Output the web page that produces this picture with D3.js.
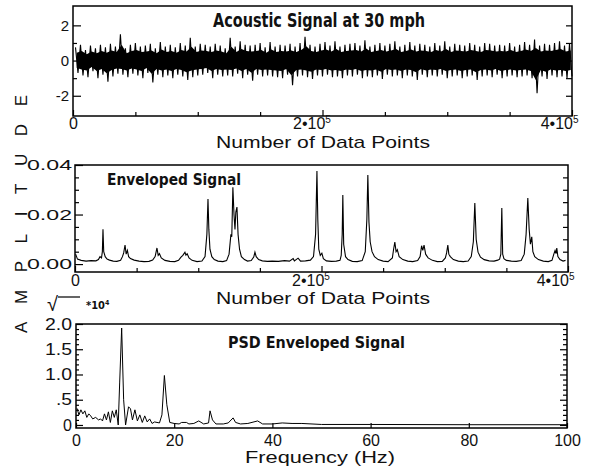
<!DOCTYPE html>
<html>
<head>
<meta charset="utf-8">
<script src="https://cdn.jsdelivr.net/npm/d3@7"></script>
<style>
body { margin: 0; background: #fff; }
</style>
</head>
<body>
<script>
// ---- data ----

// acoustic signal, decimated trace (one value every 2000 data points), amplitude
var acoustic = [
  0.75,-0.7,0.9,-0.85,0.6,-0.95,0.85,-0.6,0.7,-1.0,
  0.9,-0.8,0.75,-1.2,0.95,-0.9,0.8,-0.75,1.5,-0.8,
  0.7,-0.95,0.9,-0.75,1.0,-0.85,0.8,-1.0,0.85,-0.7,
  0.95,-1.25,0.7,-0.8,1.05,-0.95,0.8,-0.85,0.9,-1.0,
  0.75,-0.8,1.0,-0.9,0.85,-1.1,1.3,-0.95,0.8,-0.85,
  0.95,-0.8,0.9,-0.7,0.8,-1.0,0.95,-0.8,0.85,-0.9,
  0.7,-0.85,1.3,-0.9,0.8,-0.75,1.1,-1.0,0.9,-0.8,
  0.85,-1.15,0.9,-0.8,1.0,-0.9,0.75,-0.85,1.05,-0.9,
  0.8,-0.95,0.9,-1.0,0.85,-0.8,0.95,-1.4,0.8,-0.9,
  1.0,-0.85,1.35,-0.95,0.9,-1.05,0.8,-0.85,0.95,-0.9,
  1.05,-0.8,0.85,-0.95,1.1,-0.9,0.8,-1.0,0.9,-0.85,
  0.95,-0.9,1.0,-0.8,0.85,-1.0,1.15,-0.9,0.8,-0.95,
  0.9,-0.85,1.0,-1.05,0.85,-0.8,0.95,-0.9,1.1,-0.85,
  0.8,-1.0,0.9,-0.85,1.05,-0.9,0.85,-1.1,0.95,-0.8,
  0.9,-0.95,0.8,-0.85,1.0,-0.9,0.85,-0.8,1.1,-1.0,
  0.8,-0.9,0.95,-0.85,0.9,-1.0,0.85,-0.9,1.0,-0.85,
  0.9,-1.1,0.8,-0.9,1.0,-0.85,0.95,-0.95,0.85,-0.8,
  0.9,-1.0,0.85,-0.9,1.0,-0.85,0.8,-0.95,0.9,-0.9,
  1.05,-0.85,0.9,-1.0,1.2,-1.85,0.85,-0.9,0.95,-1.05,
  0.9,-0.85,1.0,-0.95,1.1,-0.9,0.85,-1.0,0.95,-0.9
]
var acousticStep = 2 // thousands of data points between samples

// enveloped signal: position (thousands of data points) and amplitude
var envX = [
  0.5,2,5,9,13,17,19,20.3,21.5,22.2,22.7,23.3,24.5,26,28,31,34,37,38.5,39.5,
  40.6,41.5,42.5,43.5,45,48,52,56,60,63,65,66.5,67.5,68.5,70,73,77,81,84,86,
  87.5,89.2,90,91,92.5,95,99,103,105.5,107,107.9,108.6,109.5,111,113,116,120,123,125,126.5,
  127.2,128.1,129,129.8,130.5,131.4,132.3,133.5,135,137.5,140,143,145,146,147,149,152,156,160,165,
  170,174,177,178,181,183,187,191,193.5,195.2,196.3,197,197.8,199,200.3,201.5,204,208,212,215,
  216,216.8,217.3,218,219.5,221.5,225,229,233,235.5,236.8,237.6,238.5,239.5,241,243,246,250,254,257.5,
  258.5,259.5,260.5,261.5,263,266,270,274,278,280,281.2,282.2,283.2,284.5,286.5,290,294,298,300.5,301.5,
  302.5,303.3,304.5,307,311,315,319,321.5,323.2,324.4,325.5,327,329,332,336,340,343,344.5,345.5,346.3,
  347,348,350,354,358,362,364.5,366,367.4,368.5,369.5,370.6,371.5,373,376,380,384,387,388.5,389.5,
  390.3,390.9,391.8,393.5,396,398
]
var envY = [
  0.004,0.002,0.0015,0.0012,0.0014,0.0013,0.0018,0.003,0.0025,0.005,0.0141,0.005,0.003,0.002,0.0016,0.0012,0.0011,0.0015,0.003,0.0045,
  0.0077,0.004,0.0055,0.003,0.0022,0.0016,0.0012,0.001,0.0011,0.0016,0.003,0.0065,0.0035,0.0042,0.0025,0.0015,0.0011,0.001,0.0015,0.0028,
  0.0035,0.0048,0.0036,0.0042,0.0025,0.0015,0.001,0.0012,0.003,0.012,0.0263,0.014,0.006,0.003,0.0018,0.0012,0.001,0.0014,0.004,0.012,
  0.011,0.031,0.02,0.014,0.021,0.023,0.012,0.006,0.003,0.0018,0.0012,0.0014,0.0028,0.0048,0.003,0.0018,0.0013,0.0011,0.0012,0.0011,
  0.0014,0.0012,0.0022,0.0013,0.0024,0.0012,0.0013,0.0016,0.003,0.012,0.0376,0.018,0.006,0.0035,0.0044,0.0022,0.0013,0.0011,0.0012,0.0015,
  0.0035,0.012,0.0279,0.008,0.003,0.0018,0.0011,0.001,0.0014,0.005,0.018,0.036,0.017,0.009,0.005,0.003,0.0018,0.0012,0.001,0.0025,
  0.006,0.0089,0.005,0.0058,0.003,0.0018,0.0012,0.001,0.0014,0.003,0.0074,0.0055,0.0077,0.004,0.0025,0.0015,0.001,0.0011,0.0025,0.0045,
  0.0077,0.004,0.003,0.0018,0.0012,0.001,0.0012,0.003,0.009,0.0246,0.01,0.0048,0.0028,0.0018,0.0013,0.0012,0.0016,0.002,0.004,0.0226,
  0.004,0.0022,0.0015,0.0012,0.0011,0.0014,0.004,0.012,0.0267,0.014,0.008,0.011,0.005,0.003,0.0018,0.0012,0.001,0.0015,0.004,0.0055,
  0.0042,0.0065,0.003,0.0018,0.0012,0.0015
]

// PSD of the enveloped signal: frequency (Hz) and sqrt(PSD) in units of 10^4
var psdHz = [
  0.2,0.6,1.0,1.4,1.8,2.2,2.6,3.0,3.4,4.0,4.6,5.0,5.4,5.8,6.2,6.6,7.0,7.4,7.8,8.2,
  8.6,8.9,9.3,9.7,10.1,10.7,11.1,11.5,12.0,12.5,13.0,13.5,14.0,14.5,15.0,15.5,16.0,17.0,17.5,18.0,
  18.5,19.1,20,21,21.5,22.5,23,24,25,26,27,27.3,27.8,28.5,30,31,32,32.5,33.5,35,
  37,38,40,42,44,46,50,60,80,100
]
var psdVal = [
  0.33,0.2,0.3,0.22,0.28,0.15,0.22,0.18,0.12,0.15,0.1,0.12,0.08,0.22,0.1,0.26,0.05,0.28,0.15,0.3,
  0.0,0.85,1.92,0.5,0.0,0.36,0.32,0.1,0.3,0.08,0.2,0.05,0.18,0.06,0.12,0.03,0.06,0.04,0.2,0.98,
  0.4,0.05,0.03,0.02,0.05,0.05,0.02,0.03,0.08,0.02,0.04,0.28,0.1,0.02,0.02,0.04,0.14,0.05,0.02,0.03,
  0.08,0.02,0.02,0.04,0.03,0.03,0.01,0.01,0.005,0.005
]

var acousticTicks = [-2, 0, 2]
var envTicks = [0, 0.02, 0.04]
var psdTicks = [0, 0.5, 1.0, 1.5, 2.0]
var pointTicks = [0, 200, 400]
var freqTicks = [0, 20, 40, 60, 80, 100]

var tickFont = "Liberation Sans, Arial, Helvetica, sans-serif"
var titleFont = "Liberation Sans Narrow, DejaVu Sans Condensed, Liberation Sans, sans-serif"

var svg = d3.select("body")
  .append("svg")
  .attr("width", 600)
  .attr("height", 469)

// ---- helpers ----
function frame(g, x, y) {
  g.append("rect")
    .attr("x", x.range()[0])
    .attr("y", y.range()[1])
    .attr("width", x.range()[1] - x.range()[0])
    .attr("height", y.range()[0] - y.range()[1])
    .attr("fill", "none")
    .attr("stroke", "#000")
    .attr("stroke-width", 1.5)
}

function axis(g, ax, tf) {
  var a = g.append("g").attr("transform", tf).call(ax)
  a.select(".domain").remove()
  a.selectAll("line").attr("stroke", "#000").attr("stroke-width", 1.2)
  a.selectAll("text")
    .attr("font-family", tickFont)
    .attr("font-size", 15)
    .attr("fill", "#111")
  return a
}

function powerLabels(a) {
  // "2•10^5" and "4•10^5" labels with a superscript
  a.selectAll(".tick text").each(function(d) {
    var t = d3.select(this)
    if (d === 0) return
    t.text(null)
    t.append("tspan").text((d / 100) + "\u202210")
    t.append("tspan").attr("font-size", 10).attr("dy", -6).text("5")
    if (d === 400) t.attr("text-anchor", "end").attr("dx", 6)
    else t.attr("dx", -11)
  })
}

function title(txt, x, y, size, len) {
  svg.append("text")
    .attr("x", x).attr("y", y)
    .attr("font-family", titleFont)
    .attr("font-weight", "bold")
    .attr("font-size", size)
    .attr("fill", "#111")
    .attr("textLength", len)
    .attr("lengthAdjust", "spacingAndGlyphs")
    .text(txt)
}

function axisTitle(txt, cx, y, len) {
  svg.append("text")
    .attr("x", cx).attr("y", y)
    .attr("text-anchor", "middle")
    .attr("font-family", tickFont)
    .attr("font-size", 17)
    .attr("fill", "#111")
    .attr("textLength", len)
    .attr("lengthAdjust", "spacingAndGlyphs")
    .text(txt)
}

// ---- panel 1: acoustic signal ----
var x1 = d3.scaleLinear().domain([0, 400]).range([73, 572])
var y1 = d3.scaleLinear().domain([-3.15, 3.1]).range([116, 6])
var g1 = svg.append("g")
var ax = function(i) { return x1(2 + i * acousticStep) }

// dense core of the trace: between each up/down pair of samples
g1.append("path")
  .datum(d3.range(acoustic.length / 2))
  .attr("fill", "#000")
  .attr("d", d3.area()
    .x(function(k) { return ax(2 * k + 0.5) })
    .y1(function(k) { return y1(0.6 * Math.max(acoustic[2 * k], acoustic[2 * k + 1])) })
    .y0(function(k) { return y1(0.6 * Math.min(acoustic[2 * k], acoustic[2 * k + 1])) }))

g1.append("path")
  .datum(acoustic)
  .attr("fill", "none")
  .attr("stroke", "#000")
  .attr("stroke-width", 1.1)
  .attr("d", d3.line()
    .x(function(d, i) { return ax(i) })
    .y(function(d) { return y1(d) }))

frame(g1, x1, y1)
axis(g1, d3.axisLeft(y1).tickValues(acousticTicks).tickSize(-8).tickPadding(4)
  .tickFormat(function(d) { return String(d) }), "translate(73,0)")
axis(g1, d3.axisLeft(y1).tickValues([-1, 1]).tickSize(-4).tickFormat(""), "translate(73,0)")
axis(g1, d3.axisRight(y1).tickValues([-2, -1, 0, 1, 2]).tickSize(-6).tickFormat(""), "translate(572,0)")
axis(g1, d3.axisBottom(x1).tickValues([50, 100, 150, 250, 300, 350]).tickSize(-4).tickFormat(""), "translate(0,116)")
var b1 = axis(g1, d3.axisBottom(x1).tickValues(pointTicks).tickSize(-6).tickPadding(2), "translate(0,116)")
b1.selectAll("text").attr("font-size", 16)
powerLabels(b1)

title("Acoustic Signal at 30 mph", 213, 27, 19, 212)
axisTitle("Number of Data Points", 323, 148, 214)

// ---- panel 2: enveloped signal ----
var x2 = d3.scaleLinear().domain([0, 400]).range([75, 568])
var y2 = d3.scaleLinear().domain([-0.0032, 0.04]).range([272, 165])
var g2 = svg.append("g")

g2.append("path")
  .datum(d3.range(envX.length))
  .attr("fill", "none")
  .attr("stroke", "#000")
  .attr("stroke-width", 1.1)
  .attr("d", d3.line()
    .x(function(i) { return x2(envX[i]) })
    .y(function(i) { return y2(envY[i]) }))

frame(g2, x2, y2)
var l2 = axis(g2, d3.axisLeft(y2).tickValues(envTicks).tickSize(-8).tickPadding(3)
  .tickFormat(d3.format(".2f")), "translate(75,0)")
l2.selectAll("text").attr("font-size", 15).attr("textLength", 45).attr("lengthAdjust", "spacingAndGlyphs")
axis(g2, d3.axisLeft(y2).tickValues([0.005, 0.01, 0.015, 0.025, 0.03, 0.035]).tickSize(-4).tickFormat(""), "translate(75,0)")
axis(g2, d3.axisRight(y2).tickValues([0.005, 0.01, 0.015, 0.02, 0.025, 0.03, 0.035]).tickSize(-5).tickFormat(""), "translate(568,0)")
axis(g2, d3.axisBottom(x2).tickValues([50, 100, 150, 250, 300, 350]).tickSize(-4).tickFormat(""), "translate(0,272)")
var b2 = axis(g2, d3.axisBottom(x2).tickValues(pointTicks).tickSize(-6).tickPadding(3), "translate(0,272)")
b2.selectAll("text").attr("font-size", 16)
powerLabels(b2)

title("Enveloped Signal", 107, 185, 15, 134)
axisTitle("Number of Data Points", 323, 304, 214)

// ---- panel 3: PSD of the enveloped signal ----
var x3 = d3.scaleLinear().domain([0, 100]).range([76, 567])
var y3 = d3.scaleLinear().domain([-0.06, 2.0]).range([428, 324])
var g3 = svg.append("g")

g3.append("path")
  .datum(d3.range(psdHz.length))
  .attr("fill", "none")
  .attr("stroke", "#000")
  .attr("stroke-width", 1)
  .attr("d", d3.line()
    .x(function(i) { return x3(psdHz[i]) })
    .y(function(i) { return y3(psdVal[i]) }))

frame(g3, x3, y3)
var minor3 = d3.range(1, 20).map(function(k) { return k / 10 }).filter(function(v) { return Math.round(v * 10) % 5 })
var l3 = axis(g3, d3.axisLeft(y3).tickValues(psdTicks).tickSize(-7).tickPadding(4)
  .tickFormat(function(d) { return d === 0 ? "0" : d < 1 ? ".5" : d.toFixed(1) }), "translate(76,0)")
l3.selectAll("text").attr("font-size", 16)
  .attr("textLength", function(d) { return d === 0 ? null : d < 1 ? 16 : 27 })
  .attr("lengthAdjust", "spacingAndGlyphs")
axis(g3, d3.axisLeft(y3).tickValues(minor3).tickSize(-3).tickFormat(""), "translate(76,0)")
axis(g3, d3.axisRight(y3).tickValues(minor3).tickSize(-4).tickFormat(""), "translate(567,0)")
axis(g3, d3.axisRight(y3).tickValues(psdTicks).tickSize(-7).tickFormat(""), "translate(567,0)")
var b3 = axis(g3, d3.axisBottom(x3).tickValues(freqTicks).tickSize(-5).tickPadding(7), "translate(0,428)")
b3.selectAll("text").attr("font-size", 16)

title("PSD Enveloped Signal", 228, 348, 15, 177)
axisTitle("Frequency (Hz)", 320, 463, 150)

// sqrt(PSD) * 10^4 unit marker
svg.append("text")
  .attr("x", 47).attr("y", 311)
  .attr("font-family", tickFont)
  .attr("font-size", 20)
  .attr("fill", "#111")
  .text("\u221A")
svg.append("line")
  .attr("x1", 58).attr("x2", 80).attr("y1", 297).attr("y2", 297)
  .attr("stroke", "#111").attr("stroke-width", 1.3)
var unit = svg.append("text")
  .attr("x", 86).attr("y", 309)
  .attr("font-family", titleFont)
  .attr("font-weight", "bold")
  .attr("font-size", 11)
  .attr("fill", "#111")
unit.append("tspan").text("*10")
unit.append("tspan").attr("font-size", 7).attr("dy", -4).text("4")

// shared vertical axis title
svg.append("text")
  .attr("transform", "translate(27,214) rotate(-90)")
  .attr("text-anchor", "middle")
  .attr("font-family", tickFont)
  .attr("font-size", 17)
  .attr("fill", "#111")
  .attr("textLength", 238)
  .text("AMPLITUDE")
</script>
</body>
</html>
